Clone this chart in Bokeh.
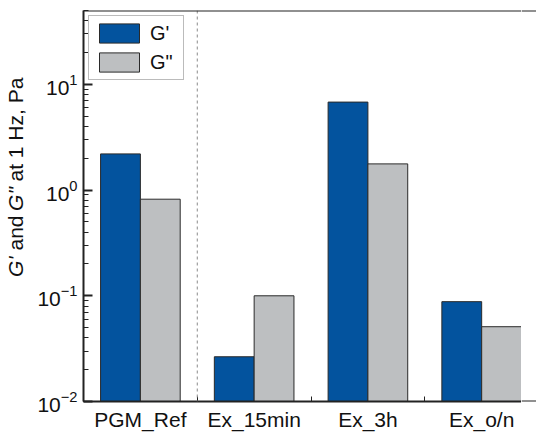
import numpy as np
from bokeh.plotting import figure
from bokeh.layouts import row
from bokeh.models import (FixedTicker, Span, Legend, LegendItem,
                          ColumnDataSource)
from bokeh.core.properties import value
from bokeh.embed import file_html
from bokeh.resources import INLINE

categories = ["PGM_Ref", "Ex_15min", "Ex_3h", "Ex_o/n"]
g_prime = [2.2, 0.0265, 6.8, 0.088]
g_double = [0.82, 0.100, 1.77, 0.051]
title_pieces = ["G'", "and", 'G"', "at 1 Hz, Pa"]
title_styles = ["italic", "normal", "italic", "normal"]

BLUE = "#03539E"
GREY = "#BDBFC1"
FONT = "Liberation Sans"
INK = "#111111"
TW = 30      # width of the title strip
RW = 15      # width of the right continuation strip
H = 433

idx = np.arange(len(categories))
bw = 0.35

p = figure(width=536 - TW - RW, height=H, x_range=(-0.5, 3.35),
           y_range=(0.01, 50),
           y_axis_type="log", output_backend="svg", toolbar_location=None,
           min_border_left=83 - TW, min_border_right=0, min_border_top=10,
           min_border_bottom=31)
p.outline_line_color = None
p.xgrid.visible = False
p.ygrid.visible = False

src1 = ColumnDataSource(dict(x=idx - bw / 2, top=g_prime))
src2 = ColumnDataSource(dict(x=idx + bw / 2, top=g_double))
r1 = p.vbar(x="x", top="top", bottom=0.01, width=bw, source=src1,
            fill_color=BLUE, line_color="#2a2a2a", line_width=1)
r2 = p.vbar(x="x", top="top", bottom=0.01, width=bw, source=src2,
            fill_color=GREY, line_color="#2a2a2a", line_width=1)

p.add_layout(Span(location=0.5, dimension="height", line_color="#8a8a8a",
                  line_dash="3 3", line_width=1))
p.add_layout(Span(location=50, dimension="width", line_color="#222222",
                  line_width=2))

# x axis
xa = p.xaxis[0]
xa.ticker = FixedTicker(ticks=list(idx), minor_ticks=[0.5, 1.5, 2.5])
xa.major_label_overrides = {int(i): c for i, c in zip(idx, categories)}
xa.major_tick_in = 0
xa.major_tick_out = 0
xa.minor_tick_in = 5
xa.minor_tick_out = 0
xa.axis_line_width = 2
xa.axis_line_color = "#222222"
xa.minor_tick_line_color = "#222222"
xa.major_label_text_font = FONT
xa.major_label_text_font_size = "21px"
xa.major_label_text_color = INK
xa.major_label_standoff = 6

# y axis
ya = p.yaxis[0]
ya.major_tick_in = 9
ya.major_tick_out = 0
ya.minor_tick_in = 5
ya.minor_tick_out = 0
ya.axis_line_width = 2
ya.axis_line_color = "#222222"
ya.major_tick_line_color = "#222222"
ya.minor_tick_line_color = "#222222"
ya.major_tick_line_width = 2
ya.major_label_text_font = FONT
ya.major_label_text_font_size = "21px"
ya.major_label_text_color = INK
ya.major_label_standoff = 6

legend = Legend(items=[LegendItem(label="G'", renderers=[r1]),
                       LegendItem(label='G"', renderers=[r2])],
                location="top_left", margin=5, padding=5, spacing=5,
                glyph_width=50, glyph_height=24, label_standoff=6,
                label_width=28,
                label_text_font=FONT, label_text_font_size="20px",
                label_text_color=INK,
                border_line_color="#777777", border_line_width=1.5,
                background_fill_alpha=1)
p.add_layout(legend)

# title strip: y-axis title in pieces so the symbols can be italic
fs = 21
em_w = {"G'": 0.969, "and": 1.668, 'G"': 1.133, "at 1 Hz, Pa": 4.947}
t = figure(width=TW, height=H, x_range=(0, TW), y_range=(0, H),
           output_backend="svg", toolbar_location=None,
           min_border=0, outline_line_color=None)
t.axis.visible = False
t.grid.visible = False
ys = []
y = 138.0
for piece in title_pieces:
    ys.append(y)
    y += em_w[piece] * fs + 0.42 * fs
for piece, style, yy in zip(title_pieces, title_styles, ys):
    t.text(x=[15], y=[yy], text=[piece], angle=np.pi / 2, text_align="left",
           text_baseline="middle", text_font=value(FONT),
           text_font_size=f"{fs}px", text_font_style=style, text_color=INK)

# right strip: the frame's top line and the x axis run on past the last bar
r = figure(width=RW, height=H, x_range=(0, 1), y_range=(0, 1),
           output_backend="svg", toolbar_location=None,
           min_border_left=0, min_border_right=0, min_border_top=10,
           min_border_bottom=31, outline_line_color=None)
r.axis.visible = False
r.grid.visible = False
r.add_layout(Span(location=1, dimension="width", line_color="#222222",
                  line_width=2))
r.add_layout(Span(location=0, dimension="width", line_color="#222222",
                  line_width=2))

layout = row(t, p, r, spacing=0)
open("out.html", "w").write(file_html(layout, INLINE))
